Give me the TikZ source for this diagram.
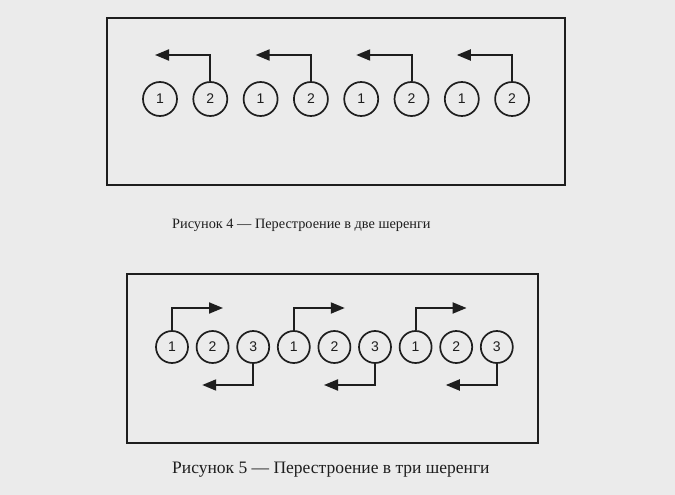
\documentclass[tikz,border=0pt]{standalone}
\usepackage{fontspec}
\setmainfont{Liberation Serif}
\newfontfamily\numfont{Liberation Sans}
\usetikzlibrary{arrows.meta}
\definecolor{ink}{HTML}{1E1E1E}
\definecolor{paper}{HTML}{EBEBEB}
\tikzset{
  soldier/.style={circle,draw=ink,line width=1.7pt,minimum size=34pt,inner sep=0pt,font=\numfont\fontsize{14}{14}\selectfont,text=ink},
  soldiersm/.style={soldier,minimum size=32pt},
  frame/.style={draw=ink,line width=2.2pt},
  move/.style={draw=ink,line width=2pt,-{Triangle[length=14pt,width=11pt]}},
  caption/.style={anchor=west,text=ink,inner sep=0pt}
}
\begin{document}
\begin{tikzpicture}[x=1pt,y=-1pt]
\useasboundingbox (0,0) rectangle (675,495);
\fill[paper] (0,0) rectangle (675,495);
% Figure 4
\draw[frame] (107,18) rectangle (565,185);
\foreach \i in {0,...,3}{
  \pgfmathsetmacro{\xa}{160+100.6*\i}
  \pgfmathsetmacro{\xb}{210.3+100.6*\i}
  \node[soldier] (a\i) at (\xa,99) {1};
  \node[soldier] (b\i) at (\xb,99) {2};
  \coordinate (ta\i) at (\xa-5,55);
  \draw[move] (b\i.north) |- (ta\i);
}
\node[caption,font=\fontsize{14.3}{16}\selectfont] (cap4) at (172,225) {Рисунок 4 — Перестроение в две шеренги};
% Figure 5
\draw[frame] (127,274) rectangle (538,443);
\foreach \i in {0,...,2}{
  \pgfmathsetmacro{\xa}{172+121.8*\i}
  \pgfmathsetmacro{\xb}{212.6+121.8*\i}
  \pgfmathsetmacro{\xc}{253.2+121.8*\i}
  \node[soldiersm] (p\i) at (\xa,347) {1};
  \node[soldiersm] (q\i) at (\xb,347) {2};
  \node[soldiersm] (r\i) at (\xc,347) {3};
  \coordinate (tp\i) at (\xa+51,308);
  \coordinate (tr\i) at (\xc-51,385);
  \draw[move] (p\i.north) |- (tp\i);
  \draw[move] (r\i.south) |- (tr\i);
}
\node[caption,font=\fontsize{17.5}{20}\selectfont] (cap5) at (172,470) {Рисунок 5 — Перестроение в три шеренги};
\end{tikzpicture}
\end{document}
